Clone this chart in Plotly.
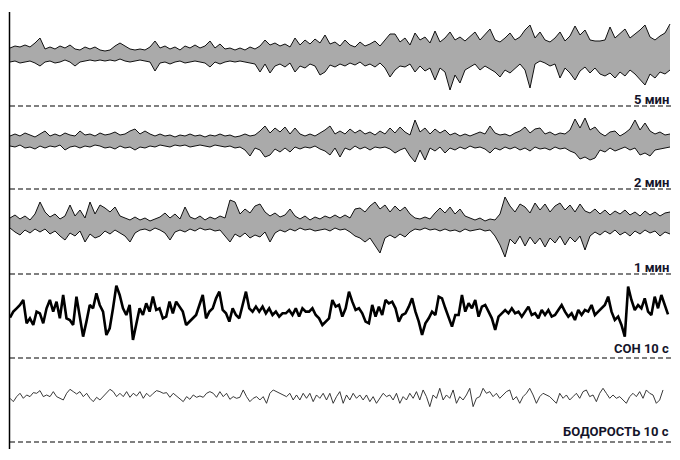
import numpy as np
import plotly.graph_objects as go

# ---------------- data (amplitudes) ----------------
labels = ["5 мин", "2 мин", "1 мин", "СОН 10 с", "БОДОРОСТЬ 10 с"]

# envelope traces: amplitude above / below the centre line (pixels-ish units)
min5_upper = [7,9,8,10,8,12,17,6,8,6,9,7,10,6,5,8,6,8,5,4,5,9,12,9,6,5,6,5,8,14,7,9,6,8,5,9,7,10,7,9,14,7,11,6,7,5,7,5,8,6,9,15,10,12,9,11,8,17,10,15,11,16,12,20,11,13,9,15,10,8,13,9,11,14,9,15,21,21,13,17,10,22,15,18,12,24,13,17,23,15,18,14,19,23,15,20,26,15,13,17,22,15,18,25,30,17,23,15,13,17,23,14,19,29,20,25,15,14,14,15,28,17,22,26,17,21,25,30,18,15,19,22,31]
min5_lower = [7,6,8,7,6,8,11,7,6,8,7,5,7,11,7,6,5,6,5,6,5,6,4,6,7,6,5,6,7,16,8,7,9,7,6,8,7,6,7,8,12,7,9,7,6,7,6,7,8,9,17,9,18,11,9,12,8,17,11,13,9,11,20,17,10,12,9,11,8,10,7,11,9,12,8,13,22,15,11,12,9,17,11,16,13,25,13,17,35,20,28,15,12,9,15,11,14,17,22,15,18,13,9,15,33,9,6,8,11,9,23,13,18,25,16,12,18,13,19,21,18,23,17,21,15,19,24,30,19,23,17,19,15]

min2_upper = [5,7,5,8,6,4,7,10,5,7,5,8,6,5,10,6,7,5,8,6,7,9,6,7,10,12,7,10,7,5,7,5,6,4,6,5,7,5,6,4,6,5,7,5,6,4,5,7,5,6,10,15,8,13,9,14,7,13,7,5,7,5,8,11,15,7,10,7,12,8,11,7,9,6,10,7,13,8,14,9,6,21,9,13,7,12,8,11,6,8,5,7,5,7,9,7,15,8,6,7,5,8,10,14,8,12,13,7,9,6,8,7,11,22,13,23,11,14,8,5,9,10,5,8,12,21,11,18,10,7,9,6,7]
min2_lower = [5,6,4,7,6,8,5,7,5,6,4,9,6,5,7,5,6,4,5,7,6,8,5,7,6,9,6,7,5,6,4,5,6,4,5,4,6,5,4,5,6,4,5,6,5,7,6,9,15,7,9,16,14,8,11,7,11,6,8,6,7,5,8,10,14,7,16,7,9,5,8,6,9,6,7,6,8,12,9,7,15,21,9,19,7,10,6,12,7,9,6,8,5,7,6,8,12,7,9,6,8,6,9,7,10,6,8,7,9,6,8,7,10,12,18,16,19,17,9,11,7,10,8,6,9,7,14,12,15,9,8,7,6]

min1_upper = [5,8,4,7,3,9,21,11,6,9,4,7,18,7,13,5,21,9,18,15,11,16,7,5,3,6,3,5,2,4,6,10,5,9,4,16,6,4,7,3,6,4,7,5,23,21,9,14,10,17,19,11,7,10,6,8,14,7,4,7,3,6,4,7,5,8,5,8,5,14,15,11,17,21,14,18,11,17,12,16,9,5,4,6,4,10,15,10,16,9,14,7,5,3,5,2,4,3,9,26,17,11,19,16,10,20,13,19,11,17,20,13,18,11,19,12,10,14,9,13,8,12,9,13,8,11,7,12,8,11,7,10,11]
min1_lower = [5,9,12,7,10,6,9,6,11,8,13,17,10,13,8,19,11,15,13,8,11,7,10,13,19,10,7,6,8,5,7,10,17,9,7,9,6,8,5,7,6,8,7,13,19,11,14,10,15,12,14,9,19,10,7,9,6,8,5,7,6,8,7,6,8,5,7,6,9,13,15,19,15,22,30,15,12,15,11,14,9,6,7,5,7,6,8,6,8,7,9,6,8,7,6,8,7,13,22,34,16,21,13,23,14,21,15,24,15,20,13,22,14,19,13,27,13,9,12,8,11,7,12,9,13,8,11,7,10,8,13,9,11]

# single traces (finer units)
son_10s = [-13,5,15,25,40,-30,-15,-35,5,0,-30,15,40,5,35,-15,55,-15,-20,-35,50,-5,-70,-25,25,15,60,25,5,-65,-45,15,83,55,15,-5,25,-80,-35,15,-5,30,5,50,10,15,-15,-10,35,0,35,20,5,-35,-25,-15,-5,25,55,-15,5,15,45,65,10,0,-25,15,-5,-15,25,65,15,5,20,5,20,0,15,-5,5,-10,0,0,10,-5,15,-10,15,5,5,15,-5,-15,-35,-25,-15,40,20,25,
           -10,15,65,35,10,15,0,-25,-30,25,-10,20,-5,40,30,35,15,-25,-5,0,20,45,5,-25,-65,-30,-15,5,-5,50,45,15,-10,-40,-5,-5,55,5,30,15,40,-10,20,25,5,-15,-50,-10,0,10,0,15,0,5,-10,5,20,-5,0,-15,10,-5,10,-10,-5,10,25,5,-10,0,-20,10,-5,10,5,25,-5,5,15,25,50,5,-20,-10,-35,-70,80,40,10,25,15,45,5,-5,50,15,55,25,-3]
bodr_10s = [-3,-13,2,12,-3,7,2,14,12,20,2,7,2,17,2,-3,-8,12,24,17,10,17,2,12,-3,-13,0,-8,2,12,24,17,2,12,2,17,0,12,4,17,-3,12,2,12,20,17,12,14,0,12,4,-3,-13,2,-6,7,0,4,0,12,17,12,0,17,2,12,-6,2,-3,0,22,2,-13,-3,2,-8,2,-18,12,22,17,12,7,2,12,-8,7,-8,12,-3,12,-13,7,-3,12,-8,12,-18,2,17,
            -18,7,-8,12,-3,7,-8,7,-13,2,-18,-3,12,2,7,-8,12,-18,2,-8,12,-3,17,-8,22,2,-28,7,-3,27,-8,7,-3,22,-18,2,-8,7,27,-28,-3,2,27,12,17,2,12,-3,7,17,22,-8,2,-18,2,12,27,7,-18,2,12,7,2,-8,-18,12,-3,7,-8,2,12,-3,17,22,2,7,-13,12,27,12,-3,7,-3,2,-8,-18,2,12,2,17,-3,22,12,7,-18,-8,22]

# ---------------- layout geometry ----------------
W, H = 680, 460
X0 = 10
centres = [55, 141, 223, 313.3, 397.3]
ends = [670, 670, 670, 668, 663]
dash_y = [106, 189, 274, 358, 442]
label_y = [99, 182.5, 267.5, 348, 431.5]
FINE = 1 / 3.0  # scale of the single traces

fig = go.Figure()

def xs(n, end):
    return np.linspace(X0, end, n)

bands = [(min5_upper, min5_lower), (min2_upper, min2_lower), (min1_upper, min1_lower)]
for k, (up, lo) in enumerate(bands):
    c = centres[k]
    up = np.array(up, float); lo = np.array(lo, float)
    fig.add_trace(go.Scatter(x=xs(len(lo), ends[k]), y=c + lo, mode="lines",
                             line=dict(color="#111111", width=1), hoverinfo="skip"))
    fig.add_trace(go.Scatter(x=xs(len(up), ends[k]), y=c - up, mode="lines",
                             line=dict(color="#111111", width=1), fill="tonexty",
                             fillcolor="#aaaaaa", hoverinfo="skip"))

s = np.array(son_10s, float)
fig.add_trace(go.Scatter(x=xs(len(s), ends[3]), y=centres[3] - s * FINE, mode="lines",
                         line=dict(color="#000000", width=2.6), hoverinfo="skip"))
b = np.array(bodr_10s, float)
fig.add_trace(go.Scatter(x=xs(len(b), ends[4]), y=centres[4] - b * FINE, mode="lines",
                         line=dict(color="#222222", width=0.9), hoverinfo="skip"))

shapes = [dict(type="line", xref="x", yref="y", x0=9.5, x1=9.5, y0=12, y1=449,
               line=dict(color="#000000", width=1.5))]
for yv in dash_y:
    shapes.append(dict(type="line", xref="x", yref="y", x0=10, x1=672, y0=yv, y1=yv,
                       line=dict(color="#000000", width=1.1, dash="5px,3px")))

annotations = []
for t, yv in zip(labels, label_y):
    annotations.append(dict(x=671, y=yv, xref="x", yref="y", text="<b>%s</b>" % t,
                            showarrow=False, xanchor="right", yanchor="middle",
                            font=dict(family="Roboto, Liberation Sans, sans-serif",
                                      size=13, color="#14142a")))

fig.update_layout(width=W, height=H, margin=dict(l=0, r=0, t=0, b=0),
                  paper_bgcolor="white", plot_bgcolor="white", showlegend=False,
                  xaxis=dict(range=[0, W], visible=False, fixedrange=True),
                  yaxis=dict(range=[H, 0], visible=False, fixedrange=True),
                  shapes=shapes, annotations=annotations)

fig.write_html("out.html", config={"displayModeBar": False},
               post_script="document.body.style.margin='0px';document.body.style.overflow='hidden';")
